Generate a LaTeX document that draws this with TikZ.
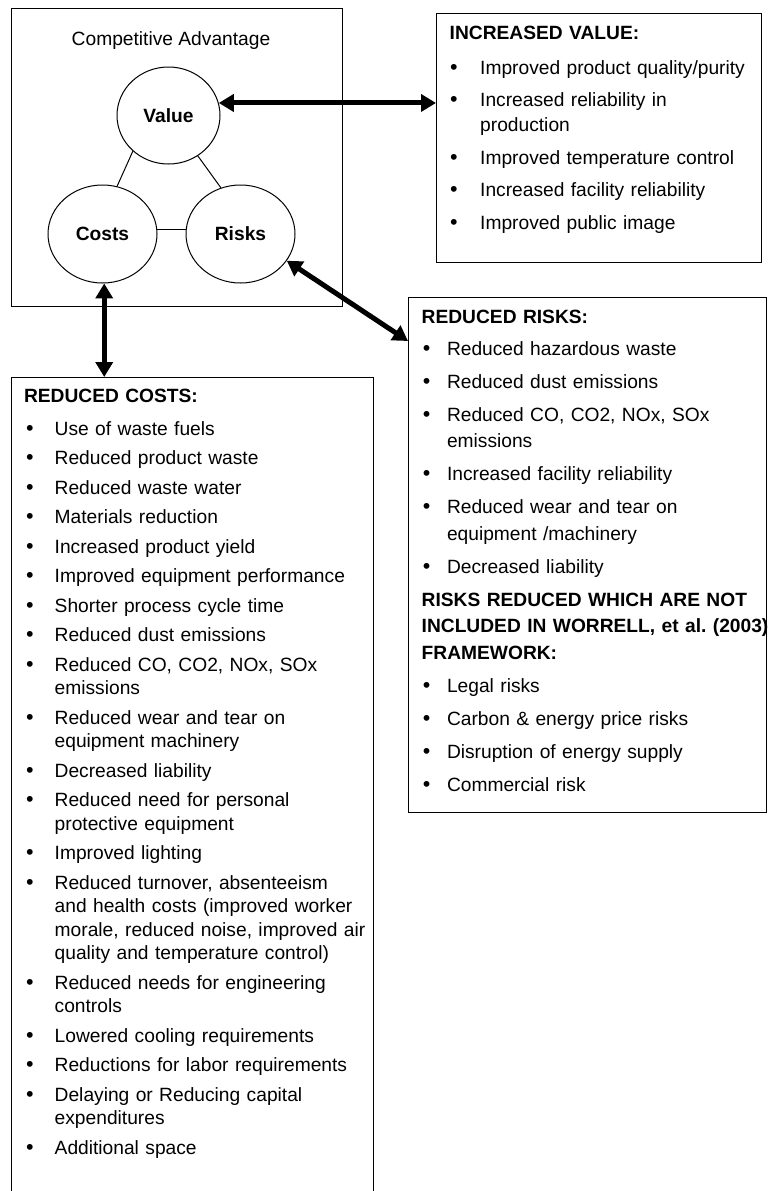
\documentclass[tikz,border=0pt]{standalone}
\usepackage{fontspec}
\setmainfont{Liberation Sans}
\usetikzlibrary{shapes.geometric,arrows.meta}
\newlength\bx
\newlength\tx
\frenchspacing
\newcommand{\hd}[1]{\noindent\strut\textbf{#1}\par}
\newcommand{\itm}[1]{\noindent\hangindent=\tx\hangafter=1\makebox[\tx][l]{\hspace{\bx}\scalebox{1.12}{\textbullet}}#1\par}
\begin{document}
\begin{tikzpicture}[x=1pt,y=-1pt,
  box/.style={draw, line width=1pt, inner sep=0pt, anchor=north west},
  oval/.style={ellipse, draw, line width=1pt, inner sep=0pt, font=\fontsize{19.2pt}{23pt}\selectfont\bfseries},
  link/.style={line width=1pt},
  bigarrow/.style={line width=5pt, {Triangle[length=15pt,width=17pt]}-{Triangle[length=15pt,width=17pt]}},
  txt/.style={anchor=north west, inner sep=0pt, text width=400pt}]
\useasboundingbox (0,0) rectangle (774,1191);
\fill[white] (0,0) rectangle (774,1191);

% boxes
\node[box, minimum width=331pt, minimum height=298pt] (cabox) at (11,8) {};
\node[box, minimum width=325pt, minimum height=249pt] (valbox) at (436,13) {};
\node[box, minimum width=358pt, minimum height=515pt] (riskbox) at (408,297) {};
\node[inner sep=0pt, anchor=north west, minimum width=362pt, minimum height=830pt] (costbox) at (11,377) {};
\draw[link] (costbox.south west) -- (costbox.north west) -- (costbox.north east) -- (costbox.south east);

% competitive advantage
\node[anchor=base, inner sep=0pt, font=\fontsize{19.2pt}{23pt}\selectfont] (catitle) at (171,45) {Competitive Advantage};
\node[oval, minimum width=103pt, minimum height=97pt] (value) at (168.5,115.5) {Value};
\node[oval, minimum width=109pt, minimum height=98pt] (costs) at (102.5,234) {Costs};
\node[oval, minimum width=109pt, minimum height=98pt] (risks) at (240.5,234) {Risks};
\draw[link] (value.225) -- (costs.73);
\draw[link] (value.306) -- (risks.113);
\draw[link] (costs.5) -- (risks.175);

% arrows
\draw[bigarrow] (value.14) -- (value.14 -| valbox.west);
\draw[bigarrow] (costs.-88) -- (costs.-88 |- costbox.north);
\coordinate (riskin) at ([yshift=-44pt]riskbox.north west);
\draw[bigarrow] (risks.-30) -- (riskin);

% increased value text
\node[txt, font=\fontsize{19.2pt}{25pt}\selectfont] (valtxt) at (449.5,21.5) {%
\setlength\parskip{7.5pt}\setlength\bx{0.5pt}\setlength\tx{30.5pt}%
\hd{INCREASED VALUE:}\vspace{2.5pt}%
\itm{Improved product quality/purity}%
\itm{Increased reliability in\newline production}%
\itm{Improved temperature control}%
\itm{Increased facility reliability}%
\itm{Improved public image}};

% reduced risks text
\node[txt, font=\fontsize{19.2pt}{26.5pt}\selectfont] (risktxt) at (421.5,305) {%
\setlength\parskip{6.5pt}\setlength\bx{1.1pt}\setlength\tx{25.3pt}%
\hd{REDUCED RISKS:}\vspace{-1.6pt}%
\itm{Reduced hazardous waste}%
\itm{Reduced dust emissions}%
\itm{Reduced CO, CO2, NOx, SOx\newline emissions}%
\itm{Increased facility reliability}%
\itm{Reduced wear and tear on\newline equipment /machinery}%
\itm{Decreased liability}%
\noindent\textbf{RISKS REDUCED WHICH ARE NOT\newline INCLUDED IN WORRELL, et al.\ (2003)\newline FRAMEWORK:}\par
\itm{Legal risks}%
\itm{Carbon \& energy price risks}%
\itm{Disruption of energy supply}%
\itm{Commercial risk}};

% reduced costs text
\node[txt, font=\fontsize{19.2pt}{23.5pt}\selectfont] (costtxt) at (23.8,385.5) {%
\setlength\parskip{6pt}\setlength\bx{2.1pt}\setlength\tx{30.7pt}%
\hd{REDUCED COSTS:}\vspace{3.5pt}%
\itm{Use of waste fuels}%
\itm{Reduced product waste}%
\itm{Reduced waste water}%
\itm{Materials reduction}%
\itm{Increased product yield}%
\itm{Improved equipment performance}%
\itm{Shorter process cycle time}%
\itm{Reduced dust emissions}%
\itm{Reduced CO, CO2, NOx, SOx\newline emissions}%
\itm{Reduced wear and tear on\newline equipment machinery}%
\itm{Decreased liability}%
\itm{Reduced need for personal\newline protective equipment}%
\itm{Improved lighting}%
\itm{Reduced turnover, absenteeism\newline and health costs (improved worker\newline morale, reduced noise, improved air\newline quality and temperature control)}%
\itm{Reduced needs for engineering\newline controls}%
\itm{Lowered cooling requirements}%
\itm{Reductions for labor requirements}%
\itm{Delaying or Reducing capital\newline expenditures}%
\itm{Additional space}};
\end{tikzpicture}
\end{document}
